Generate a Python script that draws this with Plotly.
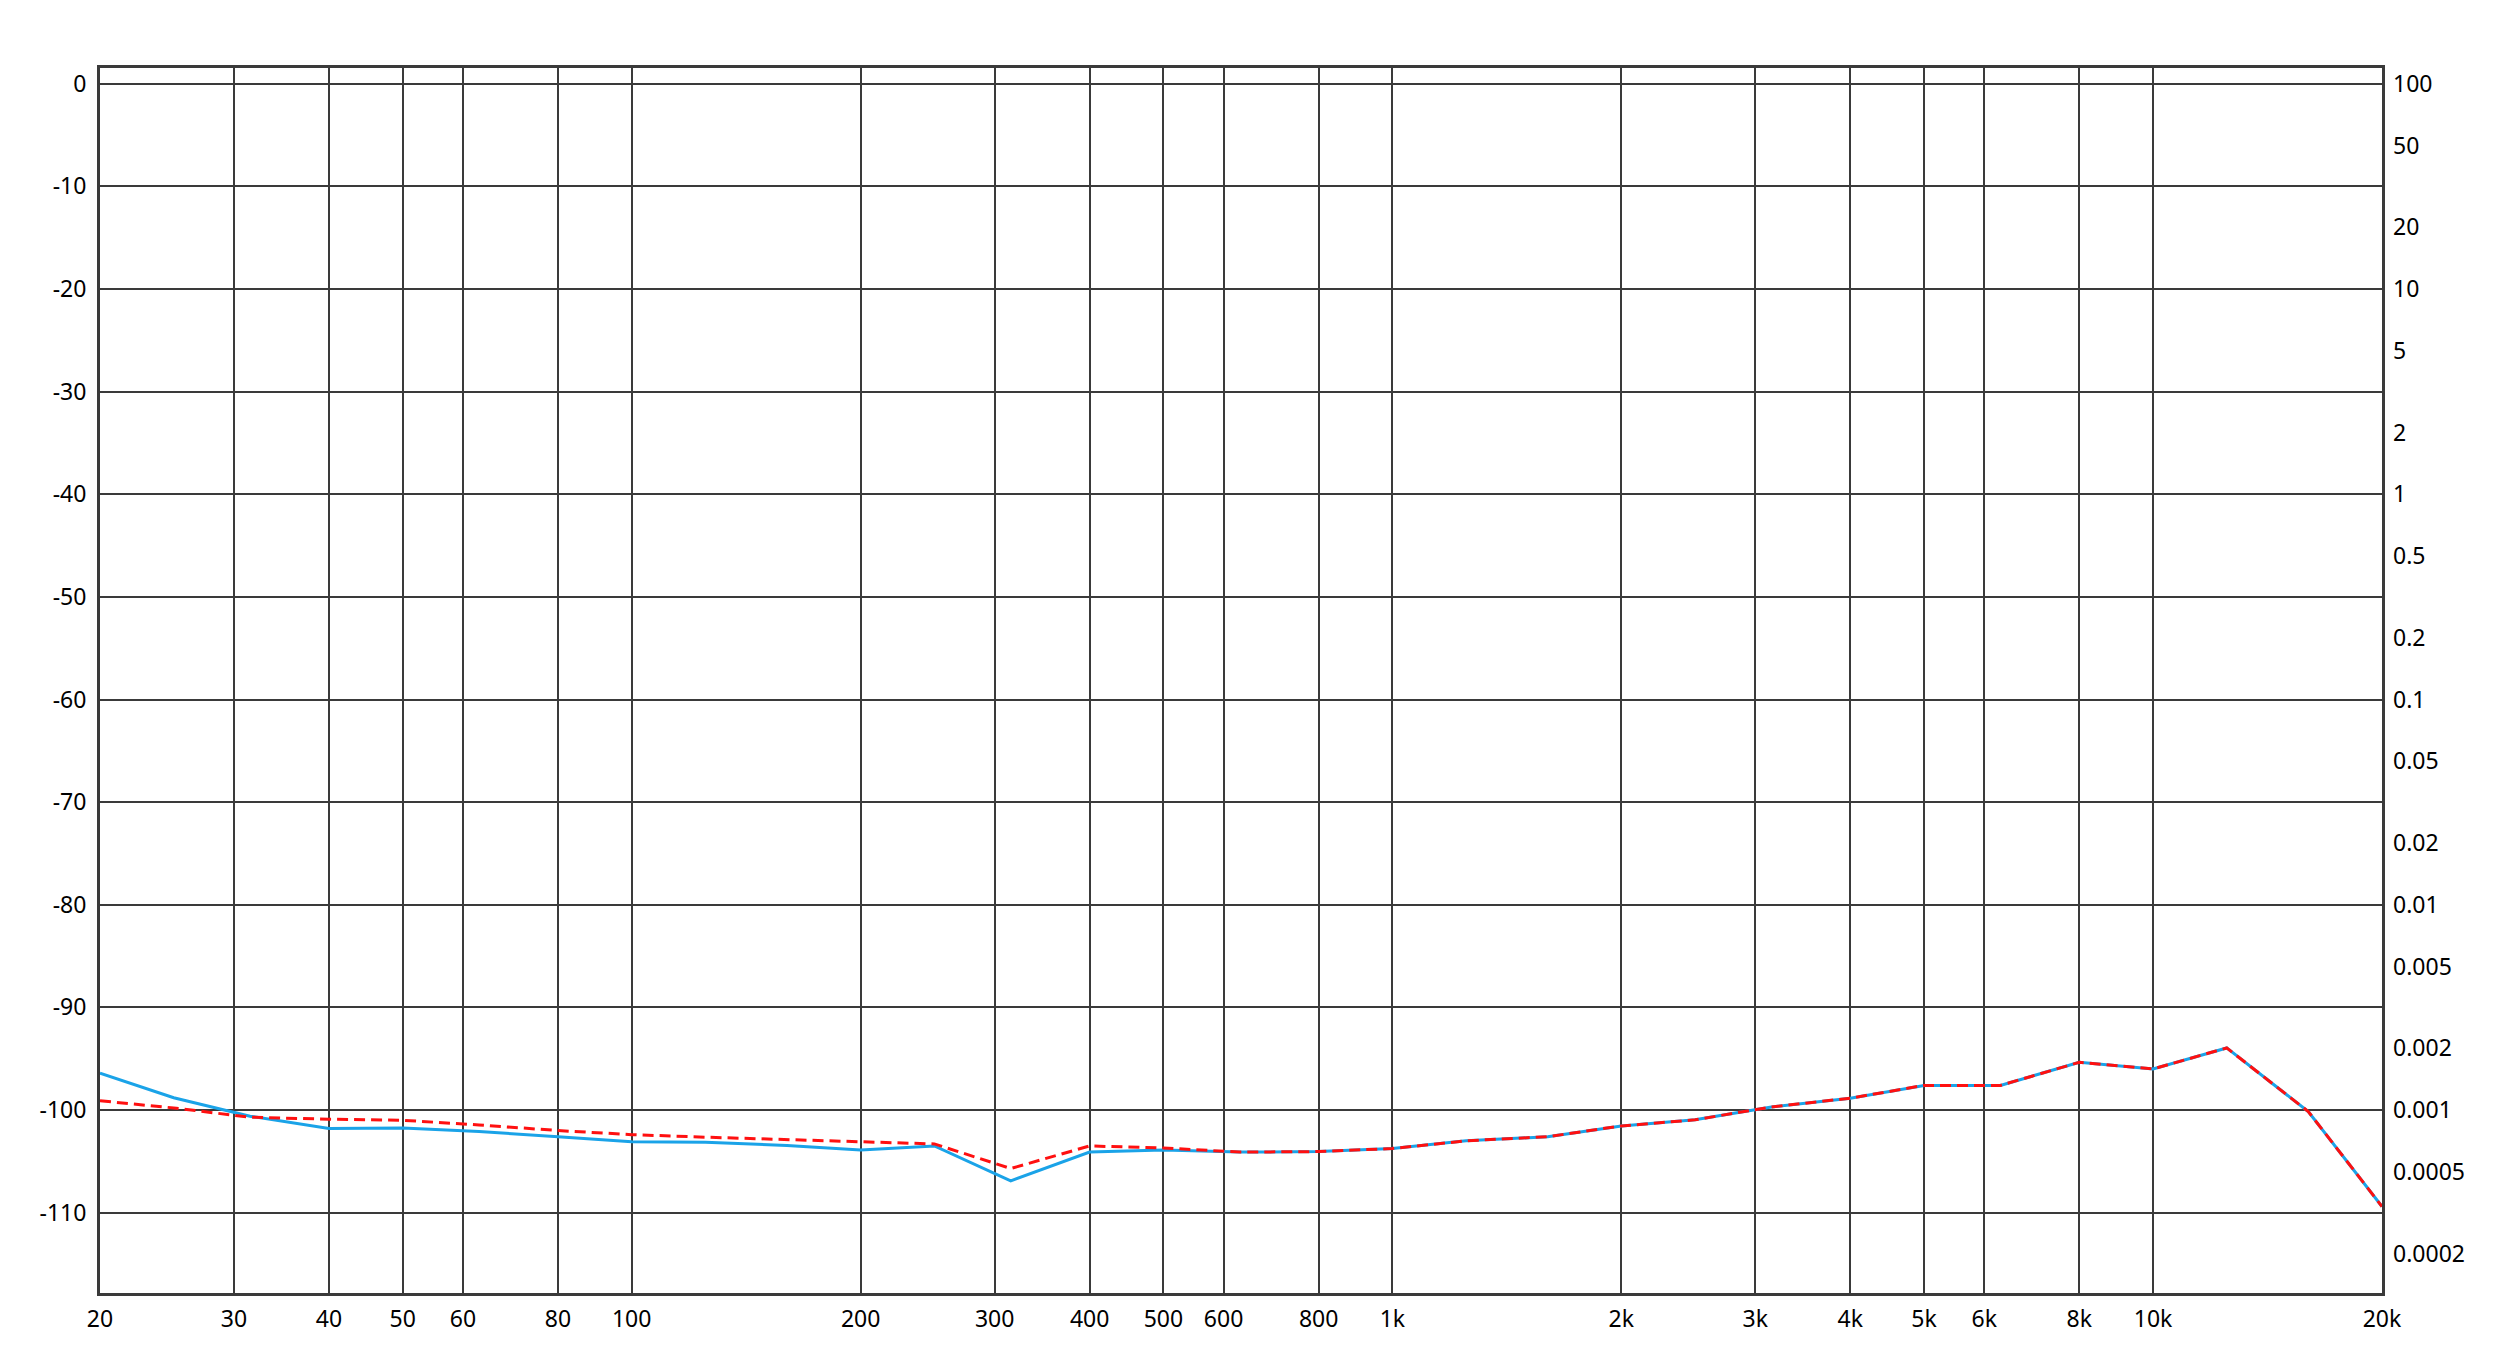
import plotly.graph_objects as go
import math

# Frequencies (Hz), 1/3-octave points
freqs = [20, 25, 31.5, 40, 50, 63, 80, 100, 125, 160, 200, 250, 315, 400, 500,
         630, 800, 1000, 1250, 1600, 2000, 2500, 3150, 4000, 5000, 6300, 8000,
         10000, 12500, 16000, 20000]

# Series values (dB)
blue_db = [-96.4, -98.8, -100.6, -101.8, -101.75, -102.1, -102.6, -103.1, -103.15,
           -103.45, -103.9, -103.5, -106.9, -104.1, -103.9, -104.1, -104.05, -103.75,
           -103.0, -102.6, -101.55, -100.95, -99.7, -98.85, -97.6, -97.6, -95.35,
           -96.0, -93.95, -100.15, -109.4]
red_db = [-99.1, -99.8, -100.7, -100.9, -101.0, -101.45, -102.0, -102.4, -102.65,
          -102.9, -103.1, -103.3, -105.7, -103.5, -103.7, -104.1, -104.05, -103.75,
          -103.0, -102.6, -101.55, -100.95, -99.7, -98.85, -97.6, -97.6, -95.35,
          -96.0, -93.95, -100.15, -109.4]

# Tick labels
x_tickvals = [20, 30, 40, 50, 60, 80, 100, 200, 300, 400, 500, 600, 800, 1000,
              2000, 3000, 4000, 5000, 6000, 8000, 10000, 20000]
x_ticktext = ["20", "30", "40", "50", "60", "80", "100", "200", "300", "400", "500",
              "600", "800", "1k", "2k", "3k", "4k", "5k", "6k", "8k", "10k", "20k"]
y_tickvals = [0, -10, -20, -30, -40, -50, -60, -70, -80, -90, -100, -110]
y_ticktext = ["0", "-10", "-20", "-30", "-40", "-50", "-60", "-70", "-80", "-90",
              "-100", "-110"]
y2_tickvals = [100, 50, 20, 10, 5, 2, 1, 0.5, 0.2, 0.1, 0.05, 0.02, 0.01, 0.005,
               0.002, 0.001, 0.0005, 0.0002]
y2_ticktext = ["100", "50", "20", "10", "5", "2", "1", "0.5", "0.2", "0.1", "0.05",
               "0.02", "0.01", "0.005", "0.002", "0.001", "0.0005", "0.0002"]

y_range = [-117.83, 1.54]
y2_range = [2 + y_range[0] / 20, 2 + y_range[1] / 20]

grid_col = "#3a3a3a"
font = dict(family="Noto Sans, Open Sans, sans-serif", size=23, color="#000000")

fig = go.Figure()
fig.add_trace(go.Scatter(x=freqs, y=blue_db, mode="lines",
                         line=dict(color="#1aa3e8", width=3), hoverinfo="skip"))
fig.add_trace(go.Scatter(x=freqs, y=red_db, mode="lines",
                         line=dict(color="#ff1010", width=3, dash="11px,6px"),
                         hoverinfo="skip"))
# invisible trace to anchor the right-hand axis
fig.add_trace(go.Scatter(x=[freqs[0]], y=[1], yaxis="y2", mode="markers",
                         marker=dict(opacity=0), hoverinfo="skip"))

fig.update_layout(
    width=2500, height=1361,
    margin=dict(l=100, r=118, t=68, b=68, pad=0),
    paper_bgcolor="white", plot_bgcolor="white",
    showlegend=False,
    font=font,
    xaxis=dict(type="log", range=[math.log10(20), math.log10(20000)],
               tickvals=x_tickvals, ticktext=x_ticktext,
               showgrid=True, gridcolor=grid_col, gridwidth=2,
               showline=True, mirror=True, linecolor=grid_col, linewidth=3,
               ticks="", ticklabelstandoff=3, zeroline=False),
    yaxis=dict(range=y_range, tickvals=y_tickvals, ticktext=y_ticktext,
               showgrid=True, gridcolor=grid_col, gridwidth=2,
               showline=True, mirror=True, linecolor=grid_col, linewidth=3,
               ticks="", ticklabelstandoff=6, zeroline=False),
    yaxis2=dict(type="log", range=y2_range, overlaying="y", side="right",
                tickvals=y2_tickvals, ticktext=y2_ticktext, showgrid=False,
                showline=False, ticks="", ticklabelstandoff=10, zeroline=False),
)

fig.write_html("out.html",
               config={"displayModeBar": False},
               post_script="document.body.style.margin='0';document.body.style.overflow='hidden';")
